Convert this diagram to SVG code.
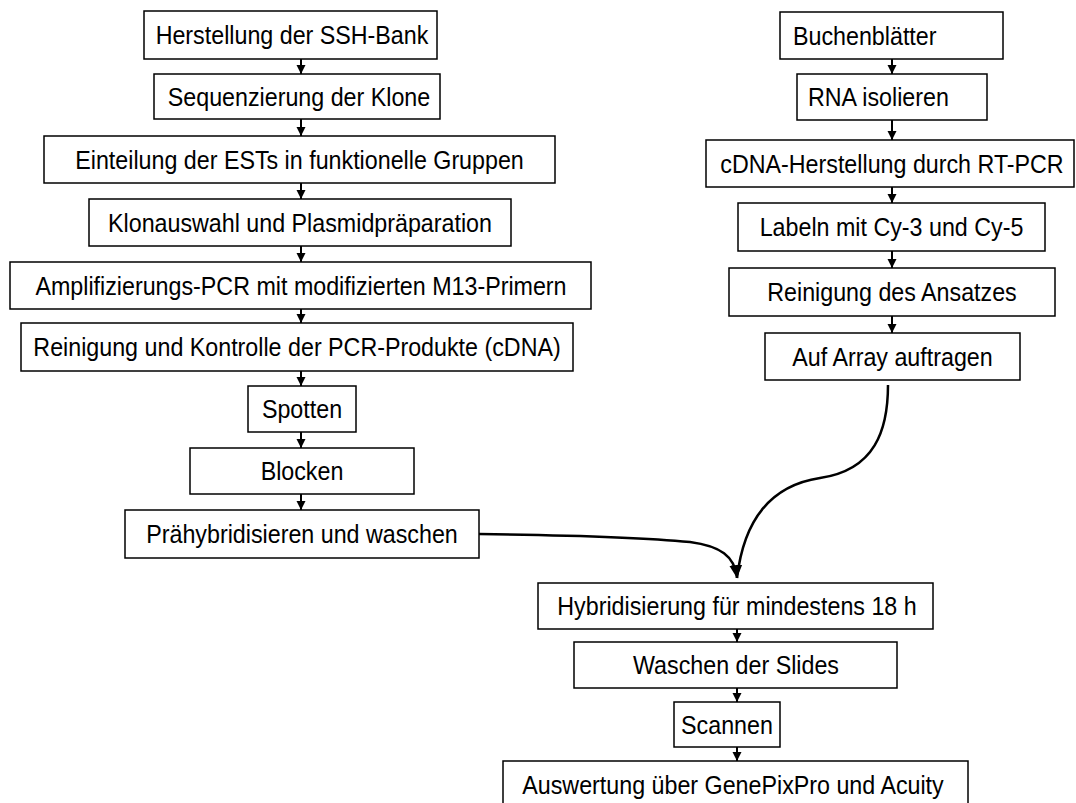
<svg xmlns="http://www.w3.org/2000/svg" width="1076" height="803" viewBox="0 0 1076 803">
<style>
.box{fill:#fff;stroke:#000;stroke-width:1.5}
.t{font-family:"Liberation Sans",Arial,sans-serif;font-size:26px;fill:#000;text-anchor:middle}
.l{text-anchor:start}
.c{stroke:#000;stroke-width:2;fill:none}
.cv{stroke:#000;stroke-width:2.5;fill:none}
</style>
<defs>
<marker id="ah" viewBox="0 0 10 10" refX="10" refY="5" markerWidth="9" markerHeight="11" orient="auto" markerUnits="userSpaceOnUse">
<path d="M0,0 L10,5 L0,10 z" fill="#000"/>
</marker>
<marker id="ahb" viewBox="0 0 10 10" refX="10" refY="5" markerWidth="13" markerHeight="13" orient="auto" markerUnits="userSpaceOnUse">
<path d="M0,0 L10,5 L0,10 z" fill="#000"/>
</marker>
</defs>
<rect width="1076" height="803" fill="#fff"/>
<g id="connectors">
<line class="c" x1="301" y1="59" x2="301" y2="74" marker-end="url(#ah)"/>
<line class="c" x1="301" y1="119" x2="301" y2="136" marker-end="url(#ah)"/>
<line class="c" x1="301" y1="183" x2="301" y2="199" marker-end="url(#ah)"/>
<line class="c" x1="301" y1="246" x2="301" y2="262" marker-end="url(#ah)"/>
<line class="c" x1="301" y1="309" x2="301" y2="323" marker-end="url(#ah)"/>
<line class="c" x1="301" y1="371" x2="301" y2="386" marker-end="url(#ah)"/>
<line class="c" x1="301" y1="432" x2="301" y2="448" marker-end="url(#ah)"/>
<line class="c" x1="301" y1="494" x2="301" y2="510" marker-end="url(#ah)"/>
<line class="c" x1="892" y1="59" x2="892" y2="74" marker-end="url(#ah)"/>
<line class="c" x1="892" y1="120" x2="892" y2="140" marker-end="url(#ah)"/>
<line class="c" x1="892" y1="187" x2="892" y2="203" marker-end="url(#ah)"/>
<line class="c" x1="892" y1="251" x2="892" y2="268" marker-end="url(#ah)"/>
<line class="c" x1="892" y1="316" x2="892" y2="333" marker-end="url(#ah)"/>
<line class="c" x1="737" y1="629" x2="737" y2="642" marker-end="url(#ah)"/>
<line class="c" x1="737" y1="688" x2="737" y2="702" marker-end="url(#ah)"/>
<line class="c" x1="737" y1="747" x2="737" y2="761" marker-end="url(#ah)"/>
<path class="cv" d="M479,534 C560,535 640,537 690,542 C720,546 735,556 737,578" marker-end="url(#ahb)"/>
<path class="cv" d="M888,385 C888,430 875,470 820,478 C780,484 745,510 737,578"/>
</g>
<g id="n1"><rect class="box" x="144" y="11" width="293" height="48"/><text class="t" transform="translate(292,44) scale(0.895,1)">Herstellung der SSH-Bank</text></g>
<g id="n2"><rect class="box" x="154" y="74" width="286" height="45"/><text class="t" transform="translate(299,106) scale(0.895,1)">Sequenzierung der Klone</text></g>
<g id="n3"><rect class="box" x="44" y="136" width="511" height="47"/><text class="t" transform="translate(299.5,169) scale(0.895,1)">Einteilung der ESTs in funktionelle Gruppen</text></g>
<g id="n4"><rect class="box" x="89" y="199" width="422" height="47"/><text class="t" transform="translate(300,232) scale(0.895,1)">Klonauswahl und Plasmidpräparation</text></g>
<g id="n5"><rect class="box" x="10" y="262" width="581" height="47"/><text class="t" transform="translate(301,295) scale(0.895,1)">Amplifizierungs-PCR mit modifizierten M13-Primern</text></g>
<g id="n6"><rect class="box" x="21" y="323" width="552" height="48"/><text class="t" transform="translate(297,356) scale(0.895,1)">Reinigung und Kontrolle der PCR-Produkte (cDNA)</text></g>
<g id="n7"><rect class="box" x="248" y="386" width="108" height="46"/><text class="t" transform="translate(302,418) scale(0.895,1)">Spotten</text></g>
<g id="n8"><rect class="box" x="190" y="448" width="224" height="46"/><text class="t" transform="translate(302,480) scale(0.895,1)">Blocken</text></g>
<g id="n9"><rect class="box" x="125" y="510" width="354" height="48"/><text class="t" transform="translate(302,543) scale(0.895,1)">Prähybridisieren und waschen</text></g>
<g id="r1"><rect class="box" x="780" y="12" width="223" height="47"/><text class="t l" transform="translate(793,45) scale(0.895,1)">Buchenblätter</text></g>
<g id="r2"><rect class="box" x="797" y="74" width="190" height="46"/><text class="t l" transform="translate(808,106) scale(0.895,1)">RNA isolieren</text></g>
<g id="r3"><rect class="box" x="706" y="140" width="368" height="47"/><text class="t" transform="translate(892,173) scale(0.895,1)">cDNA-Herstellung durch RT-PCR</text></g>
<g id="r4"><rect class="box" x="738" y="203" width="307" height="48"/><text class="t" transform="translate(891.5,236) scale(0.895,1)">Labeln mit Cy-3 und Cy-5</text></g>
<g id="r5"><rect class="box" x="729" y="268" width="326" height="48"/><text class="t" transform="translate(892,301) scale(0.895,1)">Reinigung des Ansatzes</text></g>
<g id="r6"><rect class="box" x="765" y="333" width="255" height="47"/><text class="t" transform="translate(892.5,366) scale(0.895,1)">Auf Array auftragen</text></g>
<g id="b1"><rect class="box" x="538" y="583" width="395" height="46"/><text class="t" transform="translate(737,615) scale(0.895,1)">Hybridisierung für mindestens 18 h</text></g>
<g id="b2"><rect class="box" x="574" y="642" width="323" height="46"/><text class="t" transform="translate(736,674) scale(0.895,1)">Waschen der Slides</text></g>
<g id="b3"><rect class="box" x="674" y="702" width="106" height="45"/><text class="t" transform="translate(727,734) scale(0.895,1)">Scannen</text></g>
<g id="b4"><rect class="box" x="503" y="761" width="465" height="50"/><text class="t" transform="translate(733,794) scale(0.895,1)">Auswertung über GenePixPro und Acuity</text></g>
</svg>
